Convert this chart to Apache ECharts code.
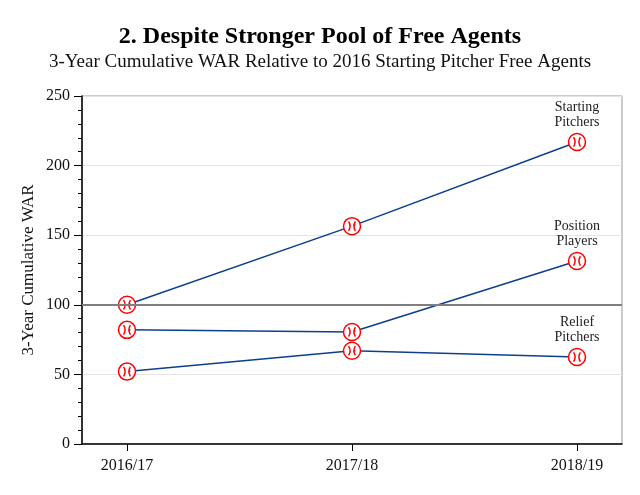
<!DOCTYPE html>
<html>
<head>
<meta charset="utf-8">
<script src="https://cdn.jsdelivr.net/npm/echarts@6/dist/echarts.min.js"></script>
<style>
  html, body { margin: 0; padding: 0; background: #fff; }
  #main { width: 640px; height: 495px; }
</style>
</head>
<body>
<div id="main"></div>
<script>
var seasons = ['2016/17', '2017/18', '2018/19'];
var startingPitchers = [100, 156.5, 217];
var positionPlayers = [82, 80.5, 131.5];
var reliefPitchers = [52, 67, 62.5];
var groupNames = ['Starting\nPitchers', 'Position\nPlayers', 'Relief\nPitchers'];

var serif = '"Liberation Serif", "DejaVu Serif", serif';
var ballPath = 'path://M0,10 A10,10 0 1,1 20,10 A10,10 0 1,1 0,10 Z M6,4.5 Q9.5,10 6,15.5 M14,4.5 Q10.5,10 14,15.5';

function toPoints(values, name) {
    return values.map(function(v, i) {
        var p = { value: [i, v] };
        if (i === values.length - 1) {
            p.label = { show: true, formatter: name };
        }
        return p;
    });
}

function makeSeries(values, name) {
    return {
        type: 'line',
        data: toPoints(values, name),
        symbol: ballPath,
        symbolSize: 17,
        showAllSymbol: true,
        lineStyle: { color: '#0d3f8f', width: 1.5 },
        itemStyle: { color: '#fff', borderColor: '#ff0000', borderWidth: 1.5 },
        label: {
            position: 'top',
            distance: 3,
            color: '#222',
            fontFamily: serif,
            fontSize: 14,
            lineHeight: 15,
            align: 'center'
        },
        emphasis: { disabled: true },
        z: 3
    };
}

var chart = echarts.init(document.getElementById('main'));

var option = {
    backgroundColor: '#fff',
    animation: false,
    title: {
        text: '2. Despite Stronger Pool of Free Agents',
        subtext: '3-Year Cumulative WAR Relative to 2016 Starting Pitcher Free Agents',
        left: 'center',
        top: 20,
        itemGap: 4,
        textStyle: { fontFamily: serif, fontSize: 24, fontWeight: 'bold', color: '#000' },
        subtextStyle: { fontFamily: serif, fontSize: 19, color: '#111' }
    },
    grid: {
        left: 82, right: 18, top: 96, bottom: 51,
        show: true, borderColor: '#999', borderWidth: 1
    },
    xAxis: {
        type: 'value',
        min: -0.2,
        max: 2.2,
        axisLine: { lineStyle: { color: '#000', width: 1.5 } },
        axisTick: { show: true, length: 7, customValues: [0, 1, 2], lineStyle: { color: '#000' } },
        axisLabel: {
            customValues: [0, 1, 2],
            formatter: function(v) { return seasons[Math.round(v)]; },
            color: '#111', fontFamily: serif, fontSize: 16, margin: 14
        },
        splitLine: { show: false }
    },
    yAxis: {
        type: 'value',
        min: 0,
        max: 250,
        interval: 50,
        name: '3-Year Cumulative WAR',
        nameLocation: 'middle',
        nameGap: 45,
        nameMoveOverlap: false,
        nameTextStyle: { fontFamily: serif, fontSize: 17, color: '#111' },
        axisLine: { show: true, onZero: false, lineStyle: { color: '#000', width: 1.5 } },
        axisTick: { show: true, length: 8, lineStyle: { color: '#000' } },
        minorTick: { show: true, splitNumber: 5, length: 4, lineStyle: { color: '#000' } },
        axisLabel: { color: '#111', fontFamily: serif, fontSize: 16, margin: 12 },
        splitLine: { show: true, lineStyle: { color: '#e4e4e4', width: 1 } }
    },
    series: [
        makeSeries(startingPitchers, groupNames[0]),
        makeSeries(positionPlayers, groupNames[1]),
        makeSeries(reliefPitchers, groupNames[2]),
        {
            type: 'line',
            data: [],
            markLine: {
                silent: true,
                symbol: 'none',
                label: { show: false },
                lineStyle: { color: '#7f7f7f', width: 2, type: 'solid' },
                data: [{ yAxis: 100 }]
            },
            z: 1
        }
    ]
};

chart.setOption(option);
</script>
</body>
</html>
